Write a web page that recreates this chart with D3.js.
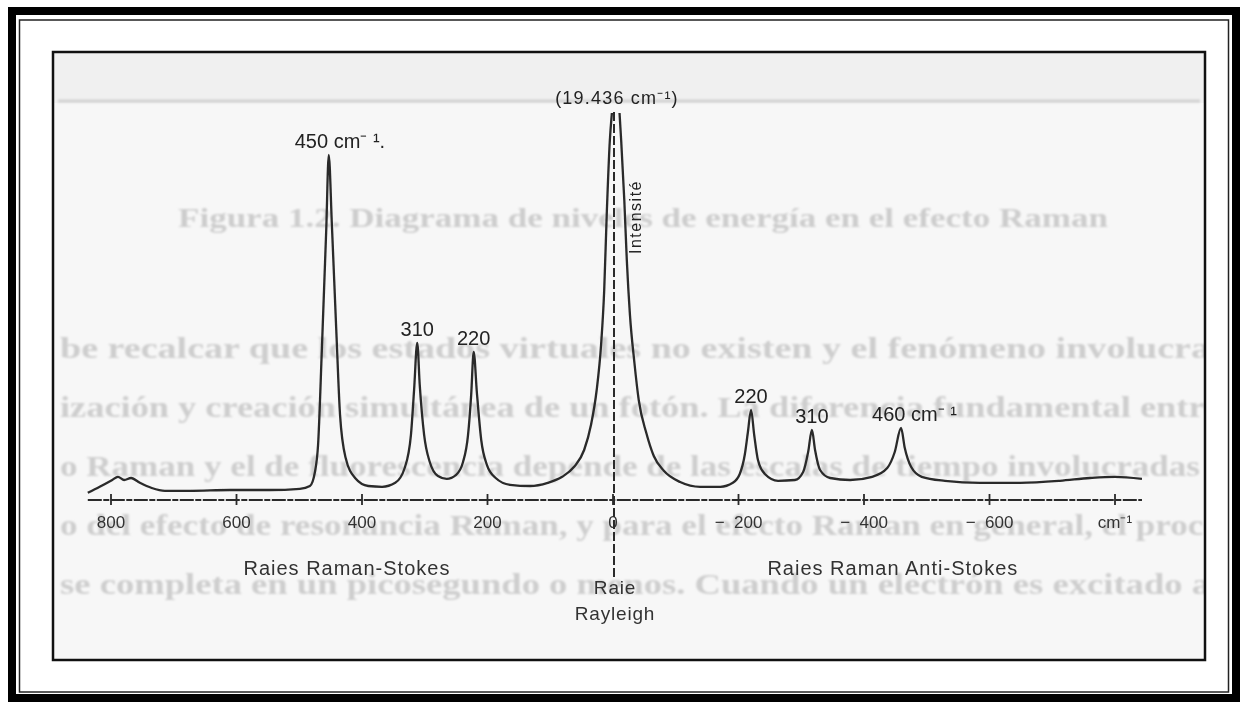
<!DOCTYPE html>
<html><head><meta charset="utf-8">
<script src="https://cdn.jsdelivr.net/npm/d3@7"></script>
<style>
html,body{margin:0;padding:0;background:#fff;}
svg{display:block;}
</style></head>
<body>
<script>
// ---- data ----
const tickValues = [800, 600, 400, 200, 0, -200, -400, -600, -800];
const tickLabels = ["800", "600", "400", "200", "0", "−  200", "−  400", "−  600", "cm⁻¹"];

// spectrum (wavenumber shift in cm-1, intensity in arbitrary units)
const spectrumWavenumber = [837, 818, 798, 789, 779, 768, 754, 735, 714, 674, 610, 547, 499, 483, 475, 470, 464, 457, 453, 448, 441, 435, 426, 411, 390, 368, 347, 332, 322, 317, 312, 308, 301, 292, 279, 265, 250, 239, 231, 226, 222, 217, 210, 201, 187, 164, 132, 104, 81, 62, 46, 35, 26, 19, 14, 10, 5, 2, -5, -13, -18, -22, -27, -34, -41, -53, -65, -81, -107, -139, -171, -191, -202, -210, -215, -220, -225, -231, -242, -263, -290, -303, -311, -317, -322, -330, -346, -378, -413, -437, -449, -459, -465, -475, -492, -529, -585, -649, -712, -760, -800, -843];
const spectrumIntensity  = [1.8, 3.3, 5.0, 5.8, 5.0, 5.5, 4.3, 3.0, 2.3, 2.3, 2.5, 2.5, 2.8, 3.5, 7.0, 13.8, 37.5, 67.5, 86.3, 68.8, 42.5, 21.3, 10.5, 5.5, 3.5, 3.3, 4.3, 8.0, 16.3, 27.5, 39.3, 28.8, 16.3, 9.5, 6.0, 5.3, 6.3, 9.5, 16.3, 26.3, 37.0, 27.0, 15.0, 8.8, 5.5, 3.8, 3.5, 4.3, 5.8, 8.3, 12.5, 18.8, 27.5, 38.8, 52.5, 71.3, 90.0, 96.3, 105, 90.0, 75.0, 60.0, 46.3, 34.5, 25.0, 16.8, 11.0, 7.3, 4.5, 3.3, 3.3, 4.3, 6.5, 11.3, 17.0, 22.5, 16.3, 10.0, 6.5, 4.8, 5.0, 7.0, 12.0, 17.5, 12.5, 7.5, 5.5, 5.0, 5.8, 8.0, 12.0, 18.0, 13.0, 8.3, 5.8, 4.8, 4.3, 4.3, 4.8, 5.5, 5.8, 5.3];

const peakLabels    = ["450 cm⁻ ¹.", "310", "220", "220", "310", "460 cm⁻ ¹"];
const peakPositions = [453, 312, 222, -220, -317, -459];
const peakHeights   = [86.3, 39.3, 37.0, 22.5, 17.5, 18.0];
const peakAnchors   = ["start", "middle", "middle", "middle", "middle", "start"];

const rayleighLabel = "(19.436 cm⁻¹)";
const axisTitleY = "Intensité";
const regionLabels = ["Raies Raman-Stokes", "Raies Raman Anti-Stokes"];
const regionPositions = [424, -446];
const rayleighNames = ["Raie", "Rayleigh"];

// faint text showing through the scanned page
const showThroughTitle = "Figura 1.2. Diagrama de niveles de energía en el efecto Raman";
const showThroughLines = [
  "be recalcar que los estados virtuales no existen y el fenómeno involucra",
  "ización y creación simultánea de un fotón. La diferencia fundamental entre",
  "o Raman y el de fluorescencia depende de las escalas de tiempo involucradas",
  "o del efecto de resonancia Raman, y para el efecto Raman en general, el proceso",
  "se completa en un picosegundo o menos. Cuando un electrón es excitado a"
];
const showThroughLengths = [1150, 1160, 1140, 1190, 1150];

// ---- drawing ----
const W = 1247, H = 706;
const svg = d3.select("body").append("svg").attr("width", W).attr("height", H);

const defs = svg.append("defs");
defs.append("filter").attr("id", "soft").append("feGaussianBlur").attr("stdDeviation", 1.0);
defs.append("filter").attr("id", "ink").append("feGaussianBlur").attr("stdDeviation", 0.35);
defs.append("clipPath").attr("id", "boxclip").append("rect")
  .attr("x", 54).attr("y", 53).attr("width", 1150).attr("height", 606);
defs.append("clipPath").attr("id", "specclip").append("rect")
  .attr("x", 54).attr("y", 113).attr("width", 1150).attr("height", 500);

// outer frame
svg.append("rect").attr("x", 12).attr("y", 11).attr("width", 1224).attr("height", 687)
  .attr("fill", "#fff").attr("stroke", "#000").attr("stroke-width", 8);
svg.append("rect").attr("x", 19.5).attr("y", 20).attr("width", 1209).attr("height", 672)
  .attr("fill", "none").attr("stroke", "#222").attr("stroke-width", 1.5);

// scanned figure box
svg.append("rect").attr("x", 53).attr("y", 52).attr("width", 1152).attr("height", 608)
  .attr("fill", "#f7f7f7");
svg.append("rect").attr("x", 54).attr("y", 53).attr("width", 1150).attr("height", 50)
  .attr("fill", "#f0f0f0");

const through = svg.append("g").attr("clip-path", "url(#boxclip)").attr("filter", "url(#soft)");
through.append("line").attr("x1", 58).attr("x2", 1200).attr("y1", 101).attr("y2", 101)
  .attr("stroke", "#d2d2d2").attr("stroke-width", 3);
through.append("text").attr("x", 643).attr("y", 227).attr("text-anchor", "middle")
  .attr("font-family", "Liberation Serif").attr("font-weight", "bold")
  .attr("font-size", 28).attr("fill", "#cdcdcd")
  .attr("textLength", 930).attr("lengthAdjust", "spacingAndGlyphs")
  .text(showThroughTitle);
through.selectAll("text.line").data(showThroughLines).join("text").attr("class", "line")
  .attr("x", 60).attr("y", (d, i) => 358 + i * 59)
  .attr("font-family", "Liberation Serif").attr("font-weight", "bold")
  .attr("font-size", 30).attr("fill", "#cecece")
  .attr("textLength", (d, i) => showThroughLengths[i]).attr("lengthAdjust", "spacingAndGlyphs")
  .text(d => d);

svg.append("rect").attr("x", 53).attr("y", 52).attr("width", 1152).attr("height", 608)
  .attr("fill", "none").attr("stroke", "#111").attr("stroke-width", 2.5);

// scales
const x = d3.scaleLinear().domain([800, -800]).range([111, 1115]);
const y = d3.scaleLinear().domain([0, 100]).range([500, 100]);
const axisY = y(0);

const chart = svg.append("g").attr("filter", "url(#ink)");
const ink = "#2a2a2a";
const sans = "Liberation Sans, Arial, sans-serif";

// x axis
chart.append("line").attr("x1", x(837)).attr("x2", x(-843)).attr("y1", axisY).attr("y2", axisY)
  .attr("stroke", ink).attr("stroke-width", 2).attr("stroke-dasharray", "14,1.5,6,1.5");
chart.selectAll("line.tick").data(tickValues).join("line").attr("class", "tick")
  .attr("x1", d => x(d)).attr("x2", d => x(d))
  .attr("y1", axisY - 6).attr("y2", axisY + 5)
  .attr("stroke", ink).attr("stroke-width", 1.8);
chart.selectAll("text.tl").data(tickValues).join("text").attr("class", "tl")
  .attr("x", d => x(d)).attr("y", axisY + 28)
  .attr("text-anchor", "middle").attr("xml:space", "preserve").style("white-space", "pre")
  .attr("font-family", sans).attr("font-size", 17)
  .attr("fill", "#333")
  .text((d, i) => tickLabels[i]);

// vertical line at 0 (Rayleigh)
chart.append("line").attr("x1", x(0) + 1).attr("x2", x(0) + 1).attr("y1", 112).attr("y2", 578)
  .attr("stroke", ink).attr("stroke-width", 2).attr("stroke-dasharray", "9,3");

// spectrum
const pts = spectrumWavenumber.map((w, i) => [w, spectrumIntensity[i]]);
const line = d3.line().x(d => x(d[0])).y(d => y(d[1])).curve(d3.curveMonotoneX);
chart.append("path").attr("d", line(pts)).attr("clip-path", "url(#specclip)")
  .attr("fill", "none").attr("stroke", ink).attr("stroke-width", 2.3)
  .attr("stroke-linejoin", "round");

// peak labels
chart.selectAll("text.pk").data(peakLabels).join("text").attr("class", "pk")
  .attr("x", (d, i) => x(peakPositions[i]) + (peakAnchors[i] === "start" ? (i === 0 ? -34 : -29) : 0))
  .attr("y", (d, i) => y(peakHeights[i]) - 7)
  .attr("text-anchor", (d, i) => peakAnchors[i]).style("white-space", "pre")
  .attr("font-family", sans).attr("font-size", 20)
  .attr("fill", "#222")
  .text(d => d);

chart.append("text").attr("x", x(0) + 4).attr("y", 104).attr("text-anchor", "middle")
  .attr("font-family", sans).attr("font-size", 18).attr("letter-spacing", 1.2)
  .attr("fill", "#222").text(rayleighLabel);

chart.append("text").attr("transform", `translate(${x(0) + 28},217) rotate(-90)`)
  .attr("text-anchor", "middle")
  .attr("font-family", sans).attr("font-size", 16).attr("letter-spacing", 1.5)
  .attr("fill", "#222").text(axisTitleY);

chart.selectAll("text.reg").data(regionLabels).join("text").attr("class", "reg")
  .attr("x", (d, i) => x(regionPositions[i])).attr("y", 575)
  .attr("text-anchor", "middle")
  .attr("font-family", sans).attr("font-size", 20).attr("letter-spacing", 1)
  .attr("fill", "#333").text(d => d);

chart.selectAll("text.ray").data(rayleighNames).join("text").attr("class", "ray")
  .attr("x", x(0) + 2).attr("y", (d, i) => 594 + i * 26)
  .attr("text-anchor", "middle")
  .attr("font-family", sans).attr("font-size", 19).attr("letter-spacing", 0.8)
  .attr("fill", "#333").text(d => d);
</script>
</body></html>
